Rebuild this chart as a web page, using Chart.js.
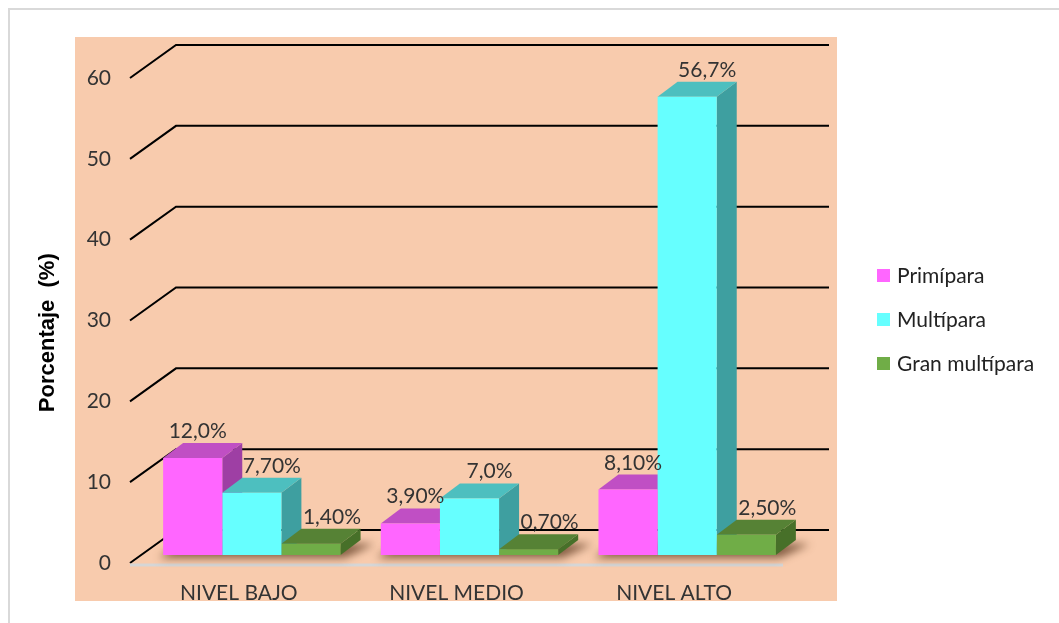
<!DOCTYPE html>
<html>
<head>
<meta charset="utf-8">
<script src="https://cdn.jsdelivr.net/npm/chart.js@4.4.1/dist/chart.umd.min.js"></script>
<style>
  html, body { margin: 0; padding: 0; background: #fff; }
  canvas { display: block; }
</style>
</head>
<body>
<canvas id="grafico" width="1059" height="623"></canvas>
<script>
const niveles = ['NIVEL BAJO', 'NIVEL MEDIO', 'NIVEL ALTO'];
const primipara = [12.0, 3.9, 8.1];
const multipara = [7.7, 7.0, 56.7];
const granMultipara = [1.4, 0.7, 2.5];
const etiquetasPrimipara = ['12,0%', '3,90%', '8,10%'];
const etiquetasMultipara = ['7,70%', '7,0%', '56,7%'];
const etiquetasGranMulti = ['1,40%', '0,70%', '2,50%'];
const nombresSeries = ['Primípara', 'Multípara', 'Gran multípara'];

// colores: frente, tapa, lado
const colores = [
  ['#FF66FF', '#C04FC4', '#9E3FA4'],
  ['#66FFFF', '#4DBFBF', '#3E9FA0'],
  ['#70AD47', '#568235', '#477029']
];

// desplazamientos de la perspectiva
const PARED = { dx: 46, dy: -33 };
const BARRA = { dx: 13, dy: -8 };
const FONDO = { dx: 20, dy: -15 };
// corrimiento horizontal de la etiqueta por serie (Excel las aparta de la barra vecina)
const corrimientoEtiqueta = [5, 20, 21];

const fuente = 'Lato';

const escena3d = {
  id: 'escena3d',
  beforeDraw(chart) {
    const ctx = chart.ctx;
    ctx.save();
    ctx.fillStyle = '#fff';
    ctx.fillRect(0, 0, chart.width, chart.height);
    ctx.strokeStyle = '#d9d9d9';
    ctx.lineWidth = 2;
    ctx.beginPath();
    ctx.moveTo(9, chart.height);
    ctx.lineTo(9, 9);
    ctx.lineTo(chart.width, 9);
    ctx.stroke();
    ctx.fillStyle = '#F8CBAD';
    ctx.fillRect(75, 37, 762, 564);
    ctx.restore();
  },
  beforeDatasetsDraw(chart) {
    const { ctx, chartArea: a, scales: { y } } = chart;
    ctx.save();
    // lineas de la pared del fondo
    ctx.strokeStyle = '#000';
    ctx.lineWidth = 2;
    y.ticks.forEach(t => {
      const py = y.getPixelForValue(t.value);
      ctx.beginPath();
      ctx.moveTo(a.left, py);
      ctx.lineTo(a.left + PARED.dx, py + PARED.dy);
      ctx.lineTo(a.right + PARED.dx, py + PARED.dy);
      ctx.stroke();
    });
    // borde del piso
    ctx.strokeStyle = '#d6d6d6';
    ctx.lineWidth = 3;
    ctx.beginPath();
    ctx.moveTo(a.left, a.bottom + 2);
    ctx.lineTo(a.right, a.bottom + 2);
    ctx.stroke();

    const metas = chart.data.datasets.map((d, i) => chart.getDatasetMeta(i));

    // sombra en el piso
    ctx.save();
    ctx.filter = 'blur(4px)';
    ctx.fillStyle = 'rgba(70, 35, 10, 0.65)';
    niveles.forEach((n, i) => {
      const e0 = metas[0].data[i], e2 = metas[metas.length - 1].data[i];
      const izq = e0.x - e0.width / 2 + BARRA.dx;
      const der = e2.x + e2.width / 2 + BARRA.dx;
      const base = e0.base + BARRA.dy;
      ctx.beginPath();
      ctx.moveTo(izq - 4, base + 3);
      ctx.lineTo(der + 4, base + 3);
      ctx.lineTo(der + FONDO.dx + 14, base + FONDO.dy + 4);
      ctx.lineTo(izq + FONDO.dx, base + FONDO.dy);
      ctx.closePath();
      ctx.fill();
    });
    ctx.restore();

    // lados y tapas de las barras
    const caja = el => ({
      l: el.x - el.width / 2 + BARRA.dx,
      r: el.x + el.width / 2 + BARRA.dx,
      t: el.y + BARRA.dy,
      b: el.base + BARRA.dy
    });
    metas.forEach((m, s) => {
      m.data.forEach(el => {
        const c = caja(el);
        ctx.fillStyle = colores[s][2];
        ctx.beginPath();
        ctx.moveTo(c.r, c.t);
        ctx.lineTo(c.r + FONDO.dx, c.t + FONDO.dy);
        ctx.lineTo(c.r + FONDO.dx, c.b + FONDO.dy);
        ctx.lineTo(c.r, c.b);
        ctx.closePath();
        ctx.fill();
      });
    });
    metas.forEach((m, s) => {
      m.data.forEach(el => {
        const c = caja(el);
        ctx.fillStyle = colores[s][1];
        ctx.beginPath();
        ctx.moveTo(c.l, c.t);
        ctx.lineTo(c.r, c.t);
        ctx.lineTo(c.r + FONDO.dx, c.t + FONDO.dy);
        ctx.lineTo(c.l + FONDO.dx, c.t + FONDO.dy);
        ctx.closePath();
        ctx.fill();
      });
    });
    ctx.restore();

    // el frente lo dibuja Chart.js, corrido a la profundidad de las barras
    ctx.save();
    ctx.translate(BARRA.dx, BARRA.dy);
  },
  afterDatasetsDraw(chart) {
    const ctx = chart.ctx;
    ctx.restore();
    ctx.save();
    // etiquetas de datos
    ctx.font = '21px ' + fuente;
    ctx.fillStyle = '#333';
    ctx.textAlign = 'center';
    ctx.textBaseline = 'alphabetic';
    chart.data.datasets.forEach((d, s) => {
      chart.getDatasetMeta(s).data.forEach((el, i) => {
        const x = el.x + BARRA.dx + corrimientoEtiqueta[s];
        const yTop = el.y + BARRA.dy + FONDO.dy;
        ctx.fillText(d.etiquetas[i], x, yTop - 5);
      });
    });
    // leyenda
    ctx.textAlign = 'left';
    ctx.textBaseline = 'middle';
    chart.data.datasets.forEach((d, s) => {
      const cy = 275 + s * 44;
      ctx.fillStyle = d.backgroundColor;
      ctx.fillRect(877, cy - 6, 13, 13);
      ctx.fillStyle = '#222';
      ctx.fillText(d.label, 897, cy + 1);
    });
    ctx.restore();
  }
};

new Chart(document.getElementById('grafico'), {
  type: 'bar',
  data: {
    labels: niveles,
    datasets: [
      { label: nombresSeries[0], data: primipara, etiquetas: etiquetasPrimipara, backgroundColor: colores[0][0] },
      { label: nombresSeries[1], data: multipara, etiquetas: etiquetasMultipara, backgroundColor: colores[1][0] },
      { label: nombresSeries[2], data: granMultipara, etiquetas: etiquetasGranMulti, backgroundColor: colores[2][0] }
    ]
  },
  options: {
    responsive: false,
    animation: false,
    clip: false,
    layout: { padding: { top: 78, left: 0, right: 276, bottom: 0 } },
    datasets: {
      bar: { categoryPercentage: 0.815, barPercentage: 1.0, borderWidth: 0, clip: false }
    },
    plugins: {
      legend: { display: false },
      tooltip: { enabled: false }
    },
    scales: {
      x: {
        grid: { display: false, drawTicks: false },
        border: { display: false },
        ticks: { font: { family: fuente, size: 21 }, color: '#333', padding: 18, maxRotation: 0 },
        afterFit(s) { s.height = 60; s.paddingLeft = 0; s.paddingRight = 0; }
      },
      y: {
        min: 0,
        max: 60,
        grid: { display: false, drawTicks: false },
        border: { display: false },
        ticks: { stepSize: 10, font: { family: fuente, size: 21 }, color: '#333', padding: 19 },
        title: {
          display: true,
          text: 'Porcentaje  (%)    ',
          color: '#000',
          font: { family: 'Liberation Sans', size: 22, weight: 'bold' },
          padding: { top: 35, bottom: 0 }
        },
        afterFit(s) { s.width = 130; s.paddingTop = 0; s.paddingBottom = 0; }
      }
    }
  },
  plugins: [escena3d]
});
</script>
</body>
</html>
